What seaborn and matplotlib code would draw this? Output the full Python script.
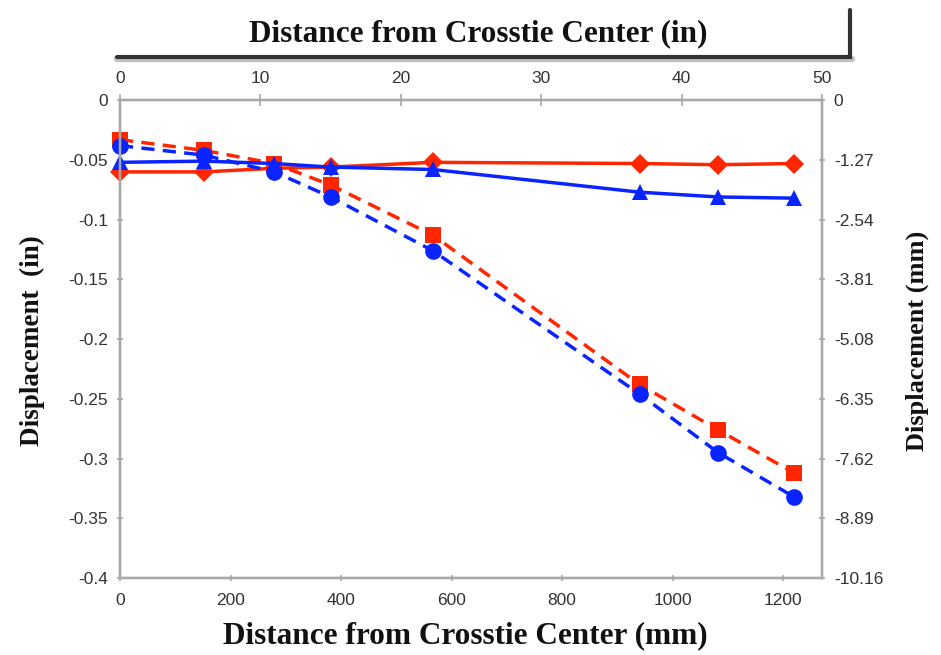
import matplotlib
matplotlib.use("Agg")
import matplotlib.pyplot as plt
import seaborn as sns
import pandas as pd
from matplotlib.lines import Line2D

# Distance from crosstie center (mm)
distance_mm = [0, 152, 279, 381, 566, 940, 1082, 1219]

# Displacement (in) for the four measurement series
red_solid = [-0.060, -0.060, -0.057, -0.056, -0.052, -0.053, -0.054, -0.053]
blue_solid = [-0.052, -0.051, -0.053, -0.056, -0.058, -0.077, -0.081, -0.082]
red_dashed = [-0.033, -0.042, -0.053, -0.071, -0.113, -0.238, -0.276, -0.312]
blue_dashed = [-0.038, -0.046, -0.060, -0.081, -0.126, -0.246, -0.295, -0.332]

left_ticks = [0, -0.05, -0.1, -0.15, -0.2, -0.25, -0.3, -0.35, -0.4]
left_labels = ["0", "-0.05", "-0.1", "-0.15", "-0.2", "-0.25", "-0.3", "-0.35", "-0.4"]
right_labels = ["0", "-1.27", "-2.54", "-3.81", "-5.08", "-6.35", "-7.62", "-8.89", "-10.16"]
bottom_ticks = [0, 200, 400, 600, 800, 1000, 1200]
top_ticks = [0, 10, 20, 30, 40, 50]

RED = "#ff2600"
BLUE = "#0a24ff"
GRID = "#a8a8a8"
TICKC = "#333333"

sns.set_style("white")
plt.rcParams["font.family"] = ["Liberation Sans Narrow", "Liberation Sans", "DejaVu Sans"]

fig = plt.figure(figsize=(9.41, 6.55), dpi=100)
ax = fig.add_axes([0.1275, 0.1176, 0.746, 0.7294])

series = [
    (red_solid, RED, "-", "D", 10),
    (red_dashed, RED, (0, (3.8, 2.4)), "s", 11),
    (blue_solid, BLUE, "-", "^", 11.5),
    (blue_dashed, BLUE, (0, (3.8, 2.4)), "o", 12),
]
for vals, col, ls, mk, ms in series:
    df = pd.DataFrame({"mm": distance_mm, "disp": vals})
    sns.lineplot(data=df, x="mm", y="disp", ax=ax, color=col, linewidth=2.5,
                 linestyle=ls, marker=mk, markersize=ms, markeredgewidth=0,
                 markerfacecolor=col, clip_on=False)

ax.set_xlim(0, 1270)
ax.set_ylim(-0.4, 0)
ax.set_xticks(bottom_ticks)
ax.set_yticks(left_ticks)
ax.set_yticklabels(left_labels)
ax.set_xlabel("")
ax.set_ylabel("")

for s in ax.spines.values():
    s.set_color(GRID)
    s.set_linewidth(1.6)
ax.tick_params(axis="both", colors=GRID, labelcolor=TICKC, labelsize=12.5,
               length=5, width=1.2, direction="inout")
ax.tick_params(axis="x", pad=8)
ax.tick_params(axis="y", pad=6)

# Secondary axis: displacement in mm
axr = ax.twinx()
axr.set_ylim(-10.16, 0)
axr.set_yticks([float(v) for v in right_labels])
axr.set_yticklabels(right_labels)
axr.tick_params(axis="y", colors=GRID, labelcolor=TICKC, labelsize=12.5,
                length=5, width=1.2, direction="inout", pad=6)

# Secondary axis: distance in inches
axt = ax.twiny()
axt.set_xlim(0, 50)
axt.set_xticks(top_ticks)
axt.tick_params(axis="x", colors=GRID, labelcolor=TICKC, labelsize=12.5,
                length=8, width=1.2, direction="inout", pad=6)
for a in (axr, axt):
    for s in a.spines.values():
        s.set_color(GRID)
        s.set_linewidth(1.6)
        s.set_visible(True)

title_font = dict(family=["Liberation Serif", "DejaVu Serif"], fontweight="bold",
                  color="#111111")
fig.text(0.494, 0.029, "Distance from Crosstie Center (mm)", ha="center", va="center",
         fontsize=22.5, **title_font)
fig.text(0.508, 0.949, "Distance from Crosstie Center (in)", ha="center", va="center",
         fontsize=22.5, **title_font)
fig.text(0.034, 0.480, "Displacement  (in)", ha="center", va="center", rotation=90,
         fontsize=19.5, **title_font)
fig.text(0.975, 0.480, "Displacement (mm)", ha="center", va="center", rotation=90,
         fontsize=19, **title_font)

# Frame bracket above the secondary axis title
fig.add_artist(Line2D([117 / 941, 852 / 941], [1 - 59 / 655, 1 - 59 / 655],
                      transform=fig.transFigure, color="#999999", linewidth=4.5, alpha=0.6))
fig.add_artist(Line2D([117 / 941, 850 / 941, 850 / 941],
                      [1 - 57 / 655, 1 - 57 / 655, 1 - 10 / 655],
                      transform=fig.transFigure, color="#333333", linewidth=3,
                      solid_joinstyle="miter"))

fig.savefig("out.png", dpi=100, facecolor="white")
